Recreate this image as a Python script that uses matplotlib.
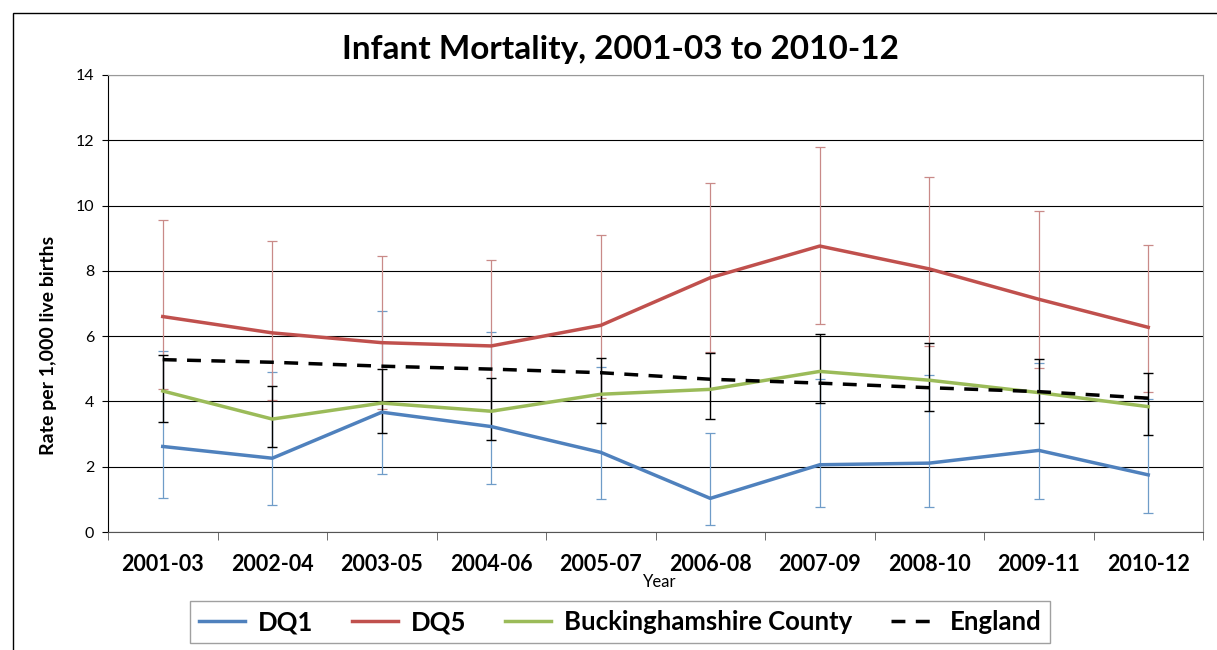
import matplotlib
matplotlib.use('Agg')
import matplotlib.pyplot as plt
from matplotlib.patches import Rectangle
import numpy as np

plt.rcParams['font.family'] = ['Lato', 'DejaVu Sans']

# periods
years = ['2001-03', '2002-04', '2003-05', '2004-06', '2005-07',
         '2006-08', '2007-09', '2008-10', '2009-11', '2010-12']

# rates per 1,000 live births
dq1 = [2.62, 2.26, 3.67, 3.23, 2.44, 1.03, 2.06, 2.11, 2.50, 1.75]
dq1_lo = [1.05, 0.83, 1.78, 1.48, 1.02, 0.22, 0.77, 0.77, 1.01, 0.58]
dq1_hi = [5.55, 4.90, 6.77, 6.13, 5.06, 3.04, 4.70, 4.80, 5.18, 4.08]

dq5 = [6.60, 6.10, 5.80, 5.70, 6.33, 7.79, 8.76, 8.06, 7.13, 6.27]
dq5_lo = [4.37, 4.04, 3.77, 3.70, 4.10, 5.52, 6.37, 5.70, 5.03, 4.30]
dq5_hi = [9.55, 8.91, 8.46, 8.33, 9.10, 10.70, 11.78, 10.88, 9.84, 8.80]

bucks = [4.32, 3.46, 3.95, 3.70, 4.22, 4.37, 4.92, 4.65, 4.27, 3.84]
bucks_lo = [3.36, 2.61, 3.03, 2.82, 3.34, 3.47, 3.95, 3.70, 3.34, 2.97]
bucks_hi = [5.42, 4.47, 4.99, 4.72, 5.33, 5.47, 6.06, 5.79, 5.30, 4.86]

england = [5.28, 5.20, 5.08, 4.99, 4.88, 4.68, 4.56, 4.42, 4.30, 4.10]

fig = plt.figure(figsize=(12.17, 6.5), dpi=100)
ax = fig.add_axes([108/1217, 118/650, 1095/1217, 457/650])

x = np.arange(len(years))

def err(v, lo, hi):
    v = np.array(v); lo = np.array(lo); hi = np.array(hi)
    return [v - lo, hi - v]

# error bars first, lines on top
ax.errorbar(x, dq1, yerr=err(dq1, dq1_lo, dq1_hi), fmt='none', ecolor='#6f9cc8',
            elinewidth=0.9, capsize=3.5, capthick=0.9, zorder=3)
ax.errorbar(x, dq5, yerr=err(dq5, dq5_lo, dq5_hi), fmt='none', ecolor='#c98a88',
            elinewidth=0.9, capsize=3.5, capthick=0.9, zorder=3)
ax.errorbar(x, bucks, yerr=err(bucks, bucks_lo, bucks_hi), fmt='none', ecolor='black',
            elinewidth=1.0, capsize=3.5, capthick=1.0, zorder=4)

ax.plot(x, dq1, color='#4f81bd', lw=2.5, label='DQ1', zorder=5)
ax.plot(x, dq5, color='#c0504d', lw=2.5, label='DQ5', zorder=5)
ax.plot(x, bucks, color='#9bbb59', lw=2.5, label='Buckinghamshire County', zorder=5)
ax.plot(x, england, color='black', lw=2.5, ls=(0, (4, 3)), label='England', zorder=6)

ax.set_xlim(-0.5, len(years) - 0.5)
ax.set_ylim(0, 14)
ax.set_yticks(range(0, 15, 2))
ax.tick_params(axis='y', labelsize=11.5, length=4, color='black', pad=6)
ax.yaxis.grid(True, color='black', lw=0.8)
ax.set_axisbelow(True)

ax.set_xticks(x)
ax.set_xticklabels(years, fontsize=15.5, fontweight='bold')
ax.set_xticks(np.arange(-0.5, len(years)), minor=True)
ax.tick_params(axis='x', which='major', length=0, pad=16)
ax.tick_params(axis='x', which='minor', length=6, color='#555555')

for s in ['top', 'right']:
    ax.spines[s].set_color('#999999')
ax.spines['bottom'].set_color('#555555')
ax.spines['left'].set_color('black')

ax.set_ylabel('Rate per 1,000 live births', fontsize=14, fontweight='bold')
ax.yaxis.set_label_coords((57 - 108) / 1095, (532 - 345) / 457)
fig.text(660/1217, 1 - 582/650, 'Year', ha='center', va='center', fontsize=12)

fig.text(620/1217, 1 - 50/650, 'Infant Mortality, 2001-03 to 2010-12',
         ha='center', va='center', fontsize=24, fontweight='bold')

leg = fig.legend(loc='center', bbox_to_anchor=(620/1217, 1 - 622/650), ncol=4,
                 frameon=True, fancybox=False, edgecolor='#888888',
                 prop={'weight': 'bold', 'size': 18.5}, handlelength=1.8,
                 columnspacing=1.5, borderpad=0.35, handletextpad=0.5)
leg.get_frame().set_linewidth(1.0)

# outer chart border (only top and left are in view)
fig.patches.append(Rectangle((13/1217, -0.2), 1.2, (650 - 13)/650 + 0.2,
                             transform=fig.transFigure, fill=False,
                             edgecolor='black', lw=1.0))

fig.savefig('out.png', dpi=100)
